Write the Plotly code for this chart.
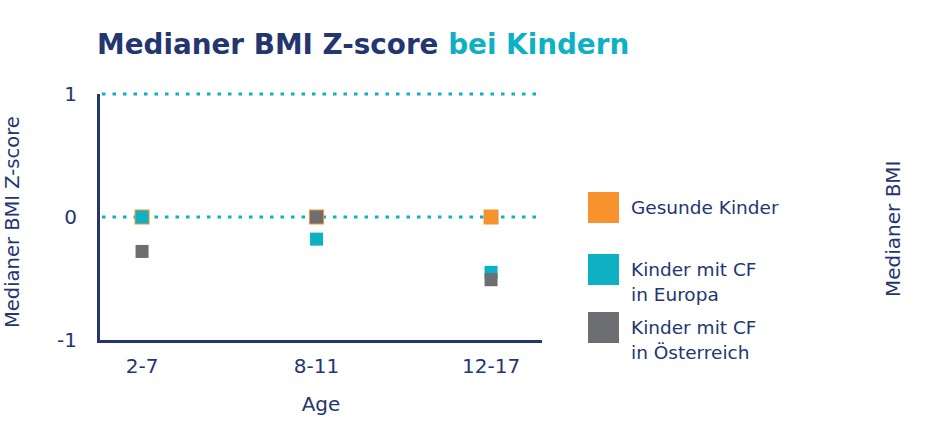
import plotly.graph_objects as go

# ---- data ----
categories = ["2-7", "8-11", "12-17"]
gesunde = [0.0, 0.0, 0.0]
europa = [0.0, -0.18, -0.45]
oesterreich = [-0.28, 0.0, -0.51]
series_values = [gesunde, europa, oesterreich]
series_labels = [["Gesunde Kinder"], ["Kinder mit CF", "in Europa"], ["Kinder mit CF", "in Österreich"]]
y_tickvals = [-1, 0, 1]
y_ticktext = ["-1", "0", "1"]
y_range = [-1, 1]
ref_lines = [0, 1]
title_main = "Medianer BMI Z-score"
title_accent = "bei Kindern"
y_title = "Medianer BMI Z-score"
right_title = "Medianer BMI"
x_title = "Age"

# ---- style ----
W, H = 937, 424
L, R, T, B = 100, 542, 94, 340
NAVY = "#243670"
TEAL = "#0DB1C3"
colors = ["#F7922F", "#0DB1C3", "#6D6E72"]
sizes = [15, 13, 13]
FONT = "DejaVu Sans"

def px_x(p):
    return (p - L) / (R - L)

def px_y(p):
    return (B - p) / (B - T)

def val_to_paper(v):
    return (v - y_range[0]) / (y_range[1] - y_range[0])

fig = go.Figure()
for vals, col, sz, lab in zip(series_values, colors, sizes, series_labels):
    fig.add_trace(go.Scatter(
        x=categories, y=vals, mode="markers", name=" ".join(lab),
        marker=dict(symbol="square", size=sz, color=col, line=dict(width=0)),
        cliponaxis=False, showlegend=False,
    ))

shapes = []
annotations = []
# dotted reference lines (paper refs so the top one is not clipped)
for v in ref_lines:
    yp = val_to_paper(v)
    shapes.append(dict(type="line", xref="paper", yref="paper", x0=px_x(102), x1=1, y0=yp, y1=yp,
                       line=dict(color=TEAL, width=3, dash="3.5px,7px"), layer="below"))
# custom legend (large squares)
leg_tops = [192, 254, 312]
for top, col, lab in zip(leg_tops, colors, series_labels):
    shapes.append(dict(type="rect", xref="paper", yref="paper",
                       x0=px_x(588), x1=px_x(619), y0=px_y(top + 31), y1=px_y(top),
                       fillcolor=col, line=dict(width=0)))
    for i, line in enumerate(lab):
        annotations.append(dict(xref="paper", yref="paper", x=px_x(629), y=px_y(top + 15 + 25 * i),
                                xanchor="left", yanchor="middle", text=line, showarrow=False,
                                font=dict(family=FONT, size=18.5, color=NAVY)))

# y title (left) and right title
annotations.append(dict(xref="paper", yref="paper", x=px_x(12), y=px_y(222), text=y_title,
                        textangle=-90, showarrow=False, xanchor="center", yanchor="middle",
                        font=dict(family=FONT, size=19.5, color=NAVY)))
annotations.append(dict(xref="paper", yref="paper", x=px_x(893), y=px_y(229), text=right_title,
                        textangle=-90, showarrow=False, xanchor="center", yanchor="middle",
                        font=dict(family=FONT, size=20, color=NAVY)))

fig.update_layout(
    width=W, height=H,
    margin=dict(l=L, r=W - R, t=T, b=H - B, pad=0),
    paper_bgcolor="white", plot_bgcolor="white",
    showlegend=False,
    title=dict(text=f"<b>{title_main} <span style='color:{TEAL}'>{title_accent}</span></b>",
               xref="container", yref="container", x=97 / W, xanchor="left",
               y=1 - 44 / H, yanchor="middle",
               font=dict(family=FONT, size=27.8, color=NAVY)),
    shapes=shapes, annotations=annotations,
    xaxis=dict(type="category", range=[-0.241, 2.292], showgrid=False, zeroline=False,
               showline=True, linecolor=NAVY, linewidth=3,
               ticks="outside", ticklen=6, tickcolor="rgba(0,0,0,0)",
               tickfont=dict(family=FONT, size=20, color=NAVY),
               title=dict(text=x_title, standoff=20, font=dict(family=FONT, size=20, color=NAVY))),
    yaxis=dict(range=y_range, tickvals=y_tickvals, ticktext=y_ticktext,
               showgrid=False, zeroline=False, showline=True, linecolor=NAVY, linewidth=3,
               ticks="outside", ticklen=16, tickcolor="rgba(0,0,0,0)",
               tickfont=dict(family=FONT, size=20, color=NAVY)),
)

fig.write_html("out.html", config={"displayModeBar": False},
               post_script="document.body.style.margin='0';")
